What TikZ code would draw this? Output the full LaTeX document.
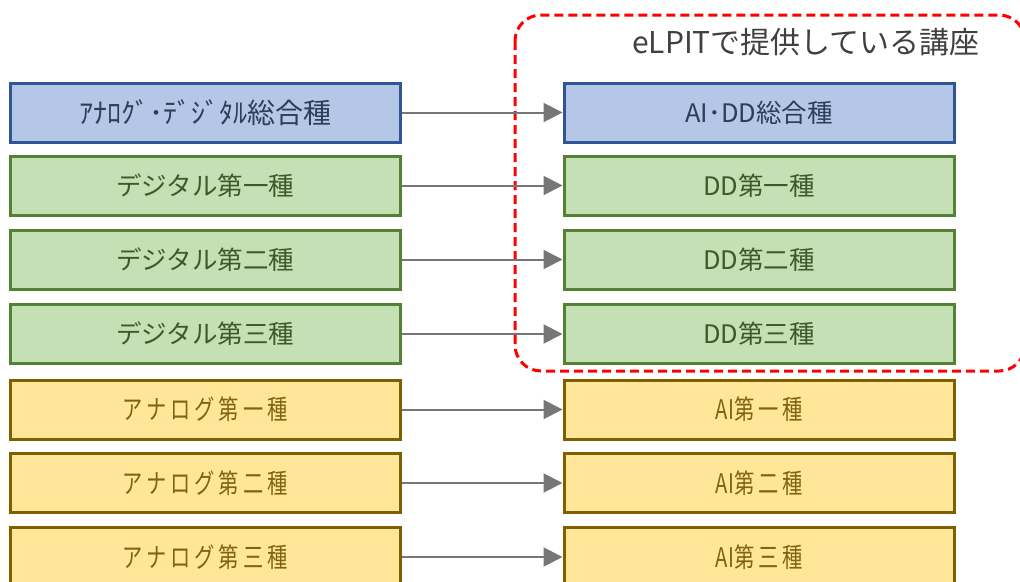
\documentclass[tikz,border=0pt]{standalone}
\usepackage{fontspec}
\setmainfont{Noto Sans CJK JP}
\newfontfamily\jpfont{Noto Sans CJK JP}
\newfontfamily\jpnarrow{Noto Sans CJK JP}[FakeStretch=0.75,LetterSpace=15]
\usetikzlibrary{arrows.meta}

\definecolor{bluefill}{HTML}{B4C7E7}
\definecolor{blueline}{HTML}{2F5597}
\definecolor{bluetext}{HTML}{2E3D58}
\definecolor{greenfill}{HTML}{C5E0B4}
\definecolor{greenline}{HTML}{548235}
\definecolor{greentext}{HTML}{3D5A2A}
\definecolor{yellowfill}{HTML}{FFE699}
\definecolor{yellowline}{HTML}{7F6000}
\definecolor{yellowtext}{HTML}{806414}
\definecolor{arrowgray}{HTML}{767676}
\definecolor{titlegray}{HTML}{404040}

\tikzset{
  course/.style={draw, line width=3pt, minimum width=390pt, minimum height=59pt,
    inner sep=0pt, font=\jpfont\fontsize{25.5}{29}\selectfont},
  bluebox/.style={course, fill=bluefill, draw=blueline, text=bluetext},
  greenbox/.style={course, fill=greenfill, draw=greenline, text=greentext},
  yellowbox/.style={course, fill=yellowfill, draw=yellowline, text=yellowtext,
    font=\jpnarrow\fontsize{27}{30}\selectfont},
  maps/.style={draw=arrowgray, line width=2pt,
    -{Triangle[length=19pt,width=19pt]}, shorten >=0pt},
  offered/.style={draw=red, line width=3pt, dash pattern=on 9pt off 5pt,
    rounded corners=26pt},
}

\begin{document}
\begin{tikzpicture}[x=1pt,y=-1pt]
  \useasboundingbox (0,0) rectangle (1020,581);
  \clip (0,0) rectangle (1020,581);

  % courses offered through eLPIT
  \draw[offered] (515,15) rectangle (1025,371);
  \node[font=\jpfont\fontsize{30}{33}\selectfont, text=titlegray] (title) at (806,42) {eLPITで提供している講座};

  % left column: certificate grades
  \node[bluebox, font=\jpfont\fontsize{28}{30}\selectfont]
                   (l1) at (205,112.5) {ｱﾅﾛｸﾞ･ﾃﾞｼﾞﾀﾙ総合種};
  \node[greenbox]  (l2) at (205,185.5) {デジタル第一種};
  \node[greenbox]  (l3) at (205,259.5) {デジタル第二種};
  \node[greenbox]  (l4) at (205,334)   {デジタル第三種};
  \node[yellowbox] (l5) at (205,409.5) {アナログ第一種};
  \node[yellowbox] (l6) at (205,483)   {アナログ第二種};
  \node[yellowbox] (l7) at (205,557)   {アナログ第三種};

  % right column: corresponding courses
  \node[bluebox]   (r1) at (759,112.5) {AI･DD総合種};
  \node[greenbox]  (r2) at (759,185.5) {DD第一種};
  \node[greenbox]  (r3) at (759,259.5) {DD第二種};
  \node[greenbox]  (r4) at (759,334)   {DD第三種};
  \node[yellowbox] (r5) at (759,409.5) {{\addfontfeature{LetterSpace=3}AI}第一種};
  \node[yellowbox] (r6) at (759,483)   {{\addfontfeature{LetterSpace=3}AI}第二種};
  \node[yellowbox] (r7) at (759,557)   {{\addfontfeature{LetterSpace=3}AI}第三種};

  \foreach \i in {1,...,7}
    \draw[maps] (l\i.east) -- (r\i.west);
\end{tikzpicture}
\end{document}
